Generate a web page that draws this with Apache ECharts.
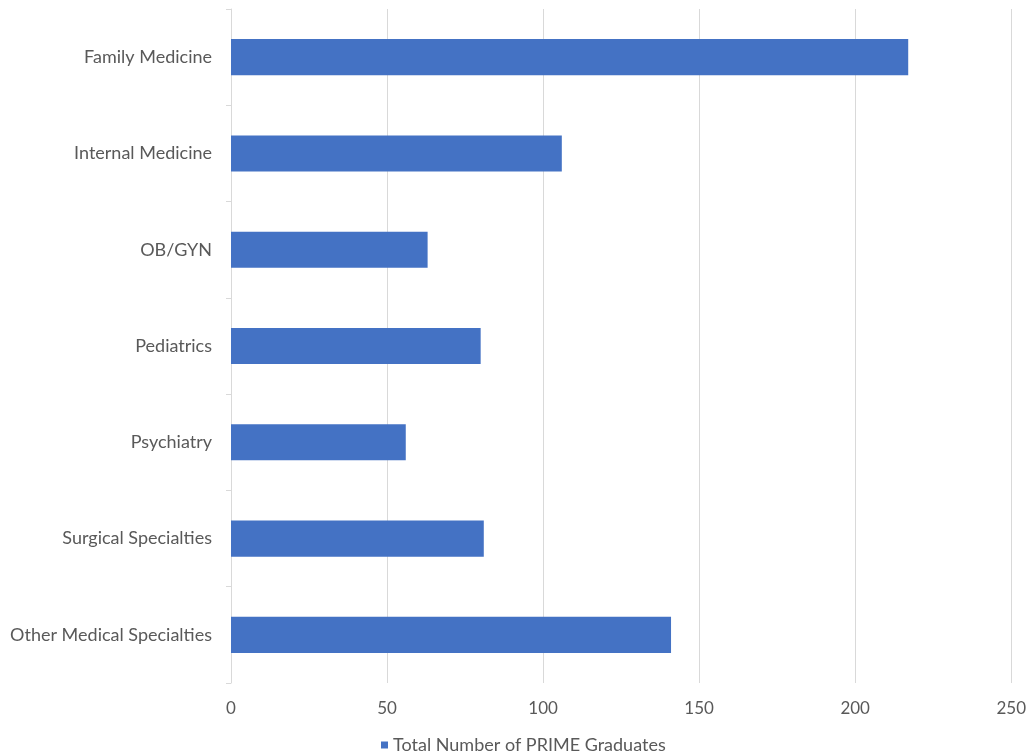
<!DOCTYPE html>
<html>
<head>
<meta charset="utf-8">
<script src="https://cdn.jsdelivr.net/npm/echarts@6/dist/echarts.min.js"></script>
<style>
  html, body { margin: 0; padding: 0; background: #ffffff; }
  #chart { width: 1029px; height: 754px; }
</style>
</head>
<body>
<div id="chart"></div>
<script>
// Specialties chosen by PRIME graduates
const categories = [
  'Family Medicine',
  'Internal Medicine',
  'OB/GYN',
  'Pediatrics',
  'Psychiatry',
  'Surgical Specialties',
  'Other Medical Specialties'
];
const graduates = [217, 106, 63, 80, 56, 81, 141];
const seriesName = 'Total Number of PRIME Graduates';
const xTicks = [0, 50, 100, 150, 200, 250];

const fontFamily = 'Lato, "Open Sans", sans-serif';
const textColor = '#595959';
const lineColor = '#d9d9d9';

const chart = echarts.init(document.getElementById('chart'));
chart.setOption({
  animation: false,
  textStyle: { fontFamily: fontFamily },
  grid: { left: 231, right: 17, top: 9, bottom: 71, containLabel: false },
  legend: {
    data: [seriesName],
    top: 731,
    left: 376,
    itemWidth: 7,
    itemHeight: 7,
    itemGap: 5,
    icon: 'rect',
    textStyle: { color: textColor, fontSize: 18, fontFamily: fontFamily }
  },
  xAxis: {
    type: 'value',
    min: xTicks[0],
    max: xTicks[xTicks.length - 1],
    interval: 50,
    axisLine: { show: false },
    axisTick: { show: false },
    axisLabel: { color: textColor, fontSize: 17, margin: 17 },
    splitLine: { show: true, lineStyle: { color: lineColor, width: 1 } }
  },
  yAxis: {
    type: 'category',
    data: categories,
    inverse: true,
    axisLine: { show: true, lineStyle: { color: lineColor, width: 1 } },
    axisTick: { show: true, length: 5, lineStyle: { color: lineColor } },
    axisLabel: { color: textColor, fontSize: 18, margin: 19 },
    splitLine: { show: false }
  },
  series: [{
    name: seriesName,
    type: 'bar',
    data: graduates,
    barWidth: '37.5%',
    itemStyle: { color: '#4472c4' }
  }]
});
</script>
</body>
</html>
